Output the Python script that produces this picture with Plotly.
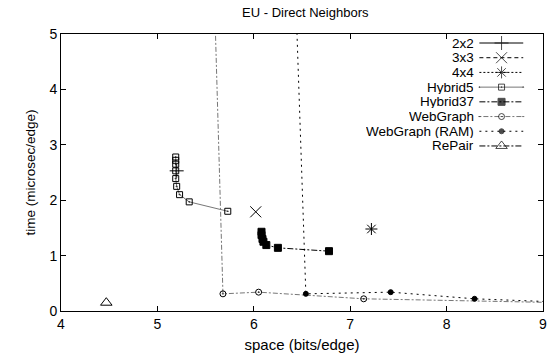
import plotly.graph_objects as go

# ---- data ----
x_2x2 = [5.20]
y_2x2 = [2.53]
x_3x3 = [6.02]
y_3x3 = [1.79]
x_4x4 = [7.22]
y_4x4 = [1.48]
x_h5 = [5.19, 5.19, 5.19, 5.19, 5.19, 5.20, 5.23, 5.33, 5.73]
y_h5 = [2.78, 2.72, 2.65, 2.53, 2.39, 2.25, 2.10, 1.97, 1.80]
x_h37 = [6.08, 6.08, 6.09, 6.10, 6.13, 6.25, 6.78]
y_h37 = [1.43, 1.37, 1.30, 1.25, 1.19, 1.14, 1.08]
x_wg = [5.52, 5.68, 6.05, 7.14, 9.80]
y_wg = [10.0, 0.31, 0.34, 0.22, 0.13]
x_ram = [6.35, 6.54, 7.42, 8.29, 9.80]
y_ram = [10.0, 0.31, 0.34, 0.22, 0.12]
x_rp = [4.47]
y_rp = [0.15]

names = ["2x2", "3x3", "4x4", "Hybrid5", "Hybrid37", "WebGraph", "WebGraph (RAM)", "RePair"]

BLACK = "#000000"
GRAY = "#777777"

styles = [
    dict(symbol="cross-thin", size=10, lc=BLACK, dash="solid", mfill=BLACK),
    dict(symbol="x-thin", size=11, lc=BLACK, dash="4px,3px", mfill=BLACK),
    dict(symbol="asterisk", size=10, lc=BLACK, dash="2px,2px", mfill=BLACK),
    dict(symbol="square-open-dot", size=6, lc=GRAY, dash="solid", mfill=BLACK),
    dict(symbol="square", size=7, lc=BLACK, dash="6px,2px,2px,2px", mfill=BLACK),
    dict(symbol="circle-open-dot", size=6, lc=GRAY, dash="2px,2px,5px,2px", mfill=BLACK),
    dict(symbol="circle", size=5, lc=BLACK, dash="2px,4px", mfill=BLACK),
    dict(symbol="triangle-up-open", size=10, lc=BLACK, dash="6px,2px,2px,2px", mfill=BLACK),
]

series = [
    (x_2x2, y_2x2), (x_3x3, y_3x3), (x_4x4, y_4x4), (x_h5, y_h5),
    (x_h37, y_h37), (x_wg, y_wg), (x_ram, y_ram), (x_rp, y_rp),
]

fig = go.Figure()


def marker_for(s):
    return dict(symbol=s["symbol"], size=s["size"], color=s["mfill"],
                line=dict(color=BLACK, width=1))


for name, (xs, ys), s in zip(names, series, styles):
    fig.add_trace(go.Scatter(
        x=xs, y=ys, mode="lines+markers", name=name, showlegend=False,
        line=dict(color=s["lc"], width=1, dash=s["dash"]),
        marker=marker_for(s), cliponaxis=True,
    ))

# ---- custom gnuplot-style legend (samples on hidden overlay axes) ----
leg_y0 = 0.9675
leg_dy = 0.0531
for i, (name, s) in enumerate(zip(names, styles)):
    yy = leg_y0 - i * leg_dy
    m = marker_for(s)
    m["size"] = [0, s["size"], 0]
    fig.add_trace(go.Scatter(
        x=[0.868, 0.914, 0.959], y=[yy, yy, yy], xaxis="x2", yaxis="y2",
        mode="lines+markers", showlegend=False, hoverinfo="skip",
        line=dict(color=s["lc"], width=1, dash=s["dash"]), marker=m,
    ))
    fig.add_annotation(x=0.858, y=yy, xref="paper", yref="paper",
                       text=name, showarrow=False, xanchor="right", yanchor="middle",
                       height=13, borderpad=0, valign="middle",
                       font=dict(size=13.5, color="black"))

axis_common = dict(showgrid=False, zeroline=False, showline=True, linecolor="black",
                   linewidth=1, mirror="ticks", ticks="inside", ticklen=5,
                   tickcolor="black", tickfont=dict(size=14, color="black"))

fig.update_layout(
    width=552, height=363,
    margin=dict(l=61, r=5, t=34, b=52),
    paper_bgcolor="white", plot_bgcolor="white",
    font=dict(family="Liberation Sans, Arial, sans-serif", color="black"),
    title=dict(text="EU - Direct Neighbors", x=0.553, xanchor="center", y=0.965,
               yanchor="middle", font=dict(size=13)),
    xaxis=dict(range=[4, 9], dtick=1, title=dict(text="space (bits/edge)", font=dict(size=15), standoff=8),
               **axis_common),
    yaxis=dict(range=[0, 5], dtick=1, title=dict(text="time (microsec/edge)", font=dict(size=13.5), standoff=10),
               **axis_common),
    xaxis2=dict(range=[0, 1], overlaying="x", visible=False),
    yaxis2=dict(range=[0, 1], overlaying="y", visible=False),
)

fig.write_html("out.html")
